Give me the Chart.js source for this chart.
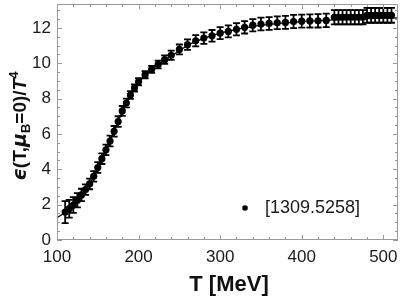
<!DOCTYPE html>
<html>
<head>
<meta charset="utf-8">
<script src="https://cdn.jsdelivr.net/npm/chart.js@4"></script>
<style>
    html, body { margin: 0; padding: 0; background: #fff; }
    #wrap { width: 403px; height: 298px; }
</style>
</head>
<body>
<div id="wrap"><canvas id="epsChart"></canvas></div>
<script>
// lattice points
const temps = [110, 115, 120, 125, 130, 135, 140, 145, 150, 155, 160, 165, 170, 175, 180, 185, 190, 195, 200,
    208, 216, 224, 232, 240, 250, 260, 270, 280, 290, 300, 310, 320, 330, 340, 350, 360, 370, 380, 390, 400,
    410, 420, 430, 440, 445, 450, 455, 460, 465, 470, 475, 480, 485, 490, 495, 500, 505, 510];
const energy = [1.58, 1.77, 1.98, 2.25, 2.55, 2.85, 3.17, 3.6, 4.1, 4.6, 5.1, 5.6, 6.15, 6.7, 7.3, 7.75, 8.2, 8.6, 8.95,
    9.35, 9.65, 9.93, 10.2, 10.45, 10.78, 11.05, 11.27, 11.42, 11.55, 11.7, 11.8, 11.92, 12.03, 12.15, 12.22, 12.25, 12.29, 12.31, 12.36, 12.38,
    12.39, 12.4, 12.42, 12.6, 12.6, 12.6, 12.6, 12.6, 12.6, 12.6, 12.6, 12.71, 12.71, 12.71, 12.71, 12.71, 12.71, 12.71];
const errors = [0.62, 0.5, 0.45, 0.4, 0.35, 0.3, 0.3, 0.3, 0.3, 0.3, 0.3, 0.3, 0.3, 0.3, 0.28, 0.25, 0.22, 0.2, 0.2,
    0.2, 0.2, 0.22, 0.24, 0.26, 0.28, 0.3, 0.32, 0.33, 0.33, 0.34, 0.34, 0.35, 0.35, 0.35, 0.36, 0.36, 0.36, 0.37, 0.37, 0.37,
    0.37, 0.38, 0.38, 0.4, 0.4, 0.4, 0.4, 0.4, 0.4, 0.4, 0.4, 0.42, 0.42, 0.42, 0.42, 0.42, 0.42, 0.42];

// thin curve under the points
const curveT = [100, 110, 120, 130, 140, 150, 160, 170, 180, 190, 200, 220, 240, 260, 280, 300, 330, 360, 400, 440, 480, 518];
const curveE = [1.27, 1.55, 1.95, 2.5, 3.15, 4.05, 5.1, 6.15, 7.25, 8.15, 8.9, 9.8, 10.4, 11.0, 11.4, 11.7, 12.0, 12.2, 12.35, 12.45, 12.52, 12.57];

const xTicks = [100, 200, 300, 400, 500];
const yTicks = [0, 2, 4, 6, 8, 10, 12];
const seriesLabel = "[1309.5258]";

Chart.defaults.font.family = "'Liberation Sans', Arial, sans-serif";
Chart.defaults.color = "#1a1a1a";

// error bars with caps
const errorBars = {
    id: "errorBars",
    afterDatasetsDraw(chart) {
        const { ctx, scales: { x, y } } = chart;
        ctx.save();
        ctx.strokeStyle = "#000";
        ctx.lineWidth = 1.8;
        temps.forEach((t, i) => {
            const px = x.getPixelForValue(t);
            const top = y.getPixelForValue(energy[i] + errors[i]);
            const bot = y.getPixelForValue(energy[i] - errors[i]);
            ctx.beginPath();
            ctx.moveTo(px, top); ctx.lineTo(px, bot);
            ctx.moveTo(px - 3.5, top); ctx.lineTo(px + 3.5, top);
            ctx.moveTo(px - 3.5, bot); ctx.lineTo(px + 3.5, bot);
            ctx.stroke();
        });
        ctx.restore();
    }
};

// gray frame with inward ticks, like Mathematica
const frame = {
    id: "frame",
    afterDraw(chart) {
        const { ctx, chartArea: a, scales: { x, y } } = chart;
        ctx.save();
        ctx.strokeStyle = "#9a9a9a";
        ctx.lineWidth = 1;
        ctx.strokeRect(a.left + 0.5, a.top + 0.5, a.right - a.left - 1, a.bottom - a.top - 1);
        ctx.beginPath();
        for (let t = 100; t <= 518; t += 20) {
            const px = Math.round(x.getPixelForValue(t)) + 0.5;
            const len = t % 100 === 0 ? 5 : 3;
            ctx.moveTo(px, a.bottom); ctx.lineTo(px, a.bottom - len);
            ctx.moveTo(px, a.top); ctx.lineTo(px, a.top + len);
        }
        for (let v = 0; v <= 13.3; v += 0.5) {
            const py = Math.round(y.getPixelForValue(v)) + 0.5;
            const len = v % 2 === 0 ? 5 : 3;
            ctx.moveTo(a.left, py); ctx.lineTo(a.left + len, py);
            ctx.moveTo(a.right, py); ctx.lineTo(a.right - len, py);
        }
        ctx.stroke();

        // legend inside the plot
        ctx.fillStyle = "#000";
        ctx.beginPath();
        ctx.arc(245, 208, 2.8, 0, Math.PI * 2);
        ctx.fill();
        ctx.font = "18px 'Liberation Sans', Arial, sans-serif";
        ctx.fillStyle = "#1a1a1a";
        ctx.textBaseline = "middle";
        ctx.fillText(seriesLabel, 265, 208);

        // x title
        ctx.font = "bold 22px 'Liberation Sans', Arial, sans-serif";
        ctx.fillStyle = "#111";
        ctx.textAlign = "center";
        ctx.fillText("T [MeV]", 229, 285);

        // y title with sub/superscript, drawn rotated
        ctx.translate(21, 126);
        ctx.rotate(-Math.PI / 2);
        const parts = [
            { s: "\u03f5", f: "italic bold 19px 'DejaVu Sans', sans-serif", dy: 0 },
            { s: "(T,", f: "bold 19px 'Liberation Sans', Arial, sans-serif", dy: 0 },
            { s: "\u03bc", f: "italic bold 19px 'DejaVu Sans', sans-serif", dy: 0 },
            { s: "B", f: "bold 13px 'Liberation Sans', Arial, sans-serif", dy: 5 },
            { s: "=0)/", f: "bold 19px 'Liberation Sans', Arial, sans-serif", dy: 0 },
            { s: "T", f: "italic bold 19px 'Liberation Sans', Arial, sans-serif", dy: 0 },
            { s: "4", f: "bold 13px 'Liberation Sans', Arial, sans-serif", dy: -7 }
        ];
        let total = 0;
        parts.forEach(p => { ctx.font = p.f; p.w = ctx.measureText(p.s).width; total += p.w; });
        let cx = -total / 2;
        ctx.textAlign = "left";
        parts.forEach(p => {
            ctx.font = p.f;
            ctx.fillText(p.s, cx, p.dy);
            cx += p.w;
        });
        ctx.restore();
    }
};

new Chart(document.getElementById("epsChart"), {
    type: "scatter",
    data: {
        datasets: [
            {
                label: seriesLabel,
                data: temps.map((t, i) => ({ x: t, y: energy[i] })),
                pointRadius: 3.6,
                pointBackgroundColor: "#000",
                pointBorderWidth: 0,
                order: 1
            },
            {
                label: "curve",
                data: curveT.map((t, i) => ({ x: t, y: curveE[i] })),
                showLine: true,
                pointRadius: 0,
                borderColor: "#000",
                borderWidth: 1.3,
                cubicInterpolationMode: "monotone",
                order: 2
            }
        ]
    },
    options: {
        responsive: true,
        maintainAspectRatio: false,
        animation: false,
        layout: { padding: { top: 1, right: 5, left: 0, bottom: 0 } },
        scales: {
            x: {
                type: "linear",
                min: 100,
                max: 518,
                afterFit: s => { s.height = 58; s.paddingLeft = 0; s.paddingRight = 0; },
                afterBuildTicks: s => { s.ticks = xTicks.map(v => ({ value: v })); },
                grid: { display: false, drawTicks: false },
                border: { display: false },
                ticks: { padding: 7, font: { size: 17 }, maxRotation: 0 }
            },
            y: {
                min: 0,
                max: 13.35,
                afterFit: s => { s.width = 57; s.paddingTop = 0; s.paddingBottom = 0; },
                afterBuildTicks: s => { s.ticks = yTicks.map(v => ({ value: v })); },
                grid: { display: false, drawTicks: false },
                border: { display: false },
                ticks: { padding: 6, font: { size: 17 } }
            }
        },
        plugins: {
            legend: { display: false },
            tooltip: { enabled: false }
        }
    },
    plugins: [errorBars, frame]
});
</script>
</body>
</html>
